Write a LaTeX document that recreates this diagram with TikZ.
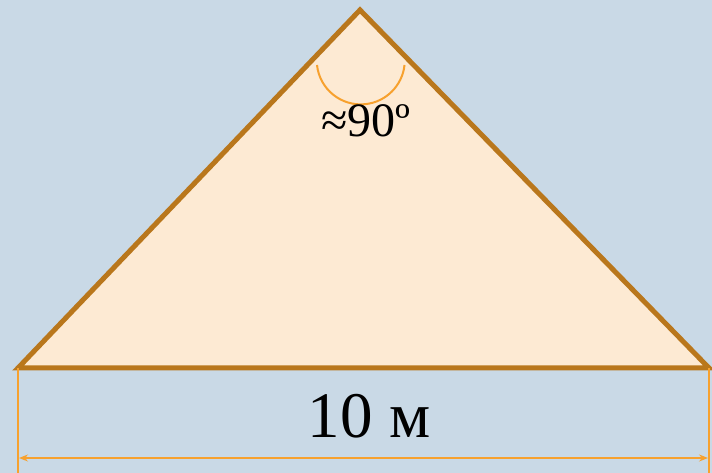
\documentclass[tikz,border=0pt]{standalone}
\usepackage{fontspec}
\setmainfont{Liberation Serif}
\usetikzlibrary{arrows.meta,calc,positioning}
\definecolor{backblue}{HTML}{C9D9E6}
\definecolor{roofedge}{HTML}{B9771C}
\definecolor{rooffill}{HTML}{FDEAD3}
\definecolor{dimorange}{HTML}{F7A12E}
\tikzset {
  >={Stealth[length=9pt,width=7pt,inset=3pt]},
  every node/.style={font=\small},
  dimline/.style={dimorange,line width=2pt},
}

\begin{document}
\begin{tikzpicture}[x=1pt,y=1pt]
          \fill[backblue] (0,0) rectangle (712,473);
          \useasboundingbox (0,0) rectangle (712,473);
          \coordinate (left) at (18,105);
          \coordinate (apex) at (360,463);
          \coordinate (right) at (709,105);
          \coordinate (leftfoot) at (18,0);
          \coordinate (rightfoot) at (709,0);
          \coordinate (leftdim) at (19,15);
          \coordinate (rightdim) at (708,15);
          \filldraw[fill=rooffill,draw=roofedge,line width=5pt,line join=miter]
          (left) -- (apex) -- (right) -- cycle;
          \draw[dimorange,line width=2pt] (317,408) arc[start angle=186,end angle=354,radius=44];
          \node[anchor=base,font=\fontsize{48}{48}\selectfont] (angle) at (366,336) {≈90º};
          \draw[dimline] (left) -- (leftfoot);
          \draw[dimline] (right) -- (rightfoot);
          \draw[dimline,<->] (leftdim) -- (rightdim);
          \node[anchor=base,font=\fontsize{65}{65}\selectfont] (width) at (369,35) {10 м};
        \end{tikzpicture}
\end{document}
